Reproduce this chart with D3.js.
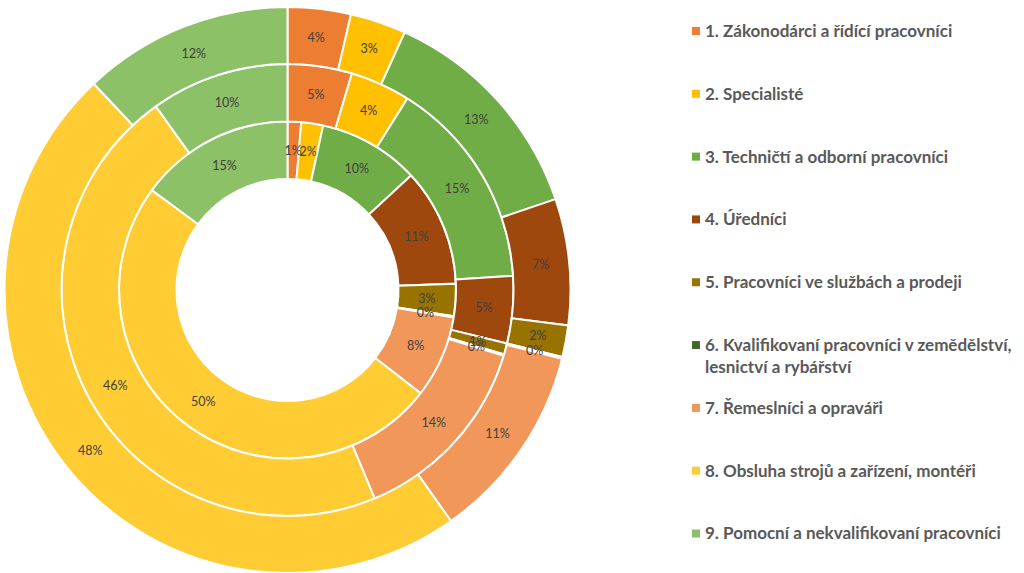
<!DOCTYPE html>
<html>
<head>
<meta charset="utf-8">
<script src="https://cdn.jsdelivr.net/npm/d3@7"></script>
<style>
  html, body { margin: 0; padding: 0; background: #fff; }
  svg { display: block; }
</style>
</head>
<body>
<svg id="chart" width="1024" height="573"></svg>
<script>
// Categories
const categories = [
  "1. Zákonodárci a řídící pracovníci",
  "2. Specialisté",
  "3. Techničtí a odborní pracovníci",
  "4. Úředníci",
  "5. Pracovníci ve službách a prodeji",
  "6. Kvalifikovaní pracovníci v zemědělství, lesnictví a rybářství",
  "7. Řemeslníci a opraváři",
  "8. Obsluha strojů a zařízení, montéři",
  "9. Pomocní a nekvalifikovaní pracovníci"
];
// Legend lines (wrapped as in the reference)
const legendLines = [
  ["1. Zákonodárci a řídící pracovníci"],
  ["2. Specialisté"],
  ["3. Techničtí a odborní pracovníci"],
  ["4. Úředníci"],
  ["5. Pracovníci ve službách a prodeji"],
  ["6. Kvalifikovaní pracovníci v zemědělství,", "lesnictví a rybářství"],
  ["7. Řemeslníci a opraváři"],
  ["8. Obsluha strojů a zařízení, montéři"],
  ["9. Pomocní a nekvalifikovaní pracovníci"]
];
// Series values (percent), inner ring -> outer ring
const innerRing  = [1.3, 2.1, 9.7, 11.3, 3.1, 0.1, 7.9, 49.6, 14.9];
const middleRing = [4.6, 4.3, 15.1, 4.8, 0.8, 0.1, 14.0, 46.4, 9.9];
const outerRing  = [3.6, 3.2, 13.0, 7.2, 1.8, 0.1, 11.3, 47.8, 12.0];

const colors = ["#ED7D31", "#FFC000", "#70AD47", "#9E480E", "#997300",
                "#43682B", "#F1975A", "#FFCD33", "#8CC168"];

const svg = d3.select("#chart");
const cx = 287.5, cy = 290;
const radii = [111, 168.5, 226, 283];
const rings = [innerRing, middleRing, outerRing];

const color = d3.scaleOrdinal().domain(d3.range(categories.length)).range(colors);
const pie = d3.pie().sort(null).value(d => d.v);

const g = svg.append("g").attr("transform", `translate(${cx},${cy})`);

rings.forEach((vals, ri) => {
  const total = d3.sum(vals);
  const arc = d3.arc().innerRadius(radii[ri]).outerRadius(radii[ri + 1]);
  const data = pie(vals.map((v, i) => ({ v, i })));
  const rg = g.append("g");
  rg.selectAll("path").data(data).join("path")
    .attr("d", arc)
    .attr("fill", d => color(d.data.i))
    .attr("stroke", "#fff")
    .attr("stroke-width", 2)
    .attr("stroke-linejoin", "miter");
  rg.selectAll("text").data(data).join("text")
    .attr("transform", d => `translate(${arc.centroid(d)})`)
    .attr("text-anchor", "middle")
    .attr("dy", "0.35em")
    .attr("font-family", "Lato, 'Open Sans', sans-serif")
    .attr("font-size", 12.5)
    .attr("fill", "#404040")
    .text(d => d3.format(".0f")(d.data.v / total * 100) + "%");
});

// Legend
const ly = d3.scalePoint().domain(d3.range(categories.length)).range([31, 533.5]);
const lg = svg.append("g");
const items = lg.selectAll("g").data(legendLines).join("g")
  .attr("transform", (d, i) => `translate(692,${ly(i)})`);
items.append("rect")
  .attr("x", 0).attr("y", -4).attr("width", 8).attr("height", 8)
  .attr("fill", (d, i) => color(i));
items.each(function(lines) {
  const t = d3.select(this).append("text")
    .attr("font-family", "Lato, 'Open Sans', sans-serif")
    .attr("font-weight", "bold")
    .attr("font-size", 17)
    .attr("fill", "#595959");
  lines.forEach((ln, k) => {
    t.append("tspan").attr("x", 13).attr("y", k * 22).attr("dy", "0.35em").text(ln);
  });
});
</script>
</body>
</html>
